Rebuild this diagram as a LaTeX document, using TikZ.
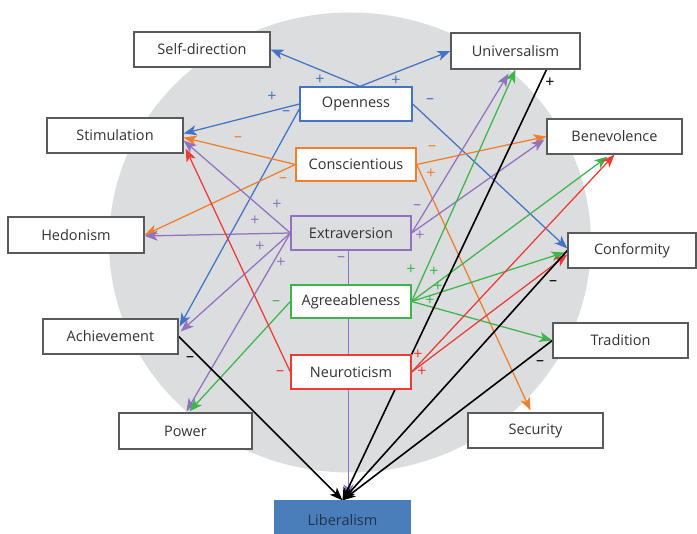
\documentclass[tikz,border=0pt]{standalone}
\usepackage{fontspec}
\setmainfont{Open Sans}
\usetikzlibrary{arrows.meta,calc}
\pgfdeclarelayer{disc}
\pgfdeclarelayer{links}
\pgfsetlayers{disc,links,main}

\definecolor{txt}{HTML}{333333}
\definecolor{frame}{HTML}{5A5A5A}
\definecolor{discgray}{HTML}{DCDDDF}
\definecolor{cOpen}{HTML}{4472C4}
\definecolor{cCons}{HTML}{F07F2B}
\definecolor{cExtr}{HTML}{9272C0}
\definecolor{cAgre}{HTML}{3DB54A}
\definecolor{cNeur}{HTML}{EE3A32}
\definecolor{libfill}{HTML}{4A7EBB}
\definecolor{libtxt}{HTML}{24314A}

\begin{document}
\begin{tikzpicture}[x=1pt,y=-1pt,
  every node/.style={font=\fontsize{14.5}{16}\selectfont, text=txt},
  valbox/.style={draw=frame, line width=1.3pt, fill=white, inner sep=0pt,
                 minimum width=135pt, minimum height=35pt},
  traitbox/.style={line width=1.3pt, inner sep=0pt, minimum width=120pt, minimum height=34pt},
  link/.style={line width=1.25pt, -{Stealth[length=13pt,width=10pt,inset=3.5pt]}},
  blink/.style={link, line width=1.6pt, black},
  sign/.style={font=\fontsize{16}{17}\selectfont, inner sep=0pt},
]
\useasboundingbox (0,0) rectangle (697,534);

% grey disc behind the trait model
\begin{pgfonlayer}{disc}
  \fill[discgray] (350,242.5) ellipse [x radius=241pt, y radius=230pt];
\end{pgfonlayer}

% value boxes
\node[valbox, minimum width=136pt] (selfdir) at (202,49.5) {Self-direction};
\node[valbox, minimum width=129pt, minimum height=36pt] (univ) at (515.5,51) {Universalism};
\node[valbox, minimum width=136pt] (stim) at (115,135.5) {Stimulation};
\node[valbox, minimum width=136pt, minimum height=36pt] (hed) at (76,235) {Hedonism};
\node[valbox] (ach) at (110.5,336.5) {Achievement};
\node[valbox, minimum width=133pt, minimum height=36pt] (pow) at (185.5,431) {Power};
\node[valbox] (bene) at (614.5,136.5) {Benevolence};
\node[valbox, minimum width=128pt] (conf) at (632,250.5) {Conformity};
\node[valbox] (trad) at (620.5,340.5) {Tradition};
\node[valbox] (sec) at (535.5,430.5) {Security};
\node[valbox, draw=libfill, fill=libfill, text=libtxt, minimum height=38pt] (lib) at (342.5,520) {Liberalism};

% trait boxes
\node[traitbox, draw=cOpen, fill=white, minimum width=112pt] (open) at (356,104) {Openness};
\node[traitbox, draw=cCons, fill=white, minimum height=33pt] (consc) at (356,164.5) {Conscientious};
\node[traitbox, draw=cExtr] (ext) at (351,233) {Extraversion};
\node[traitbox, draw=cAgre, fill=white, minimum height=33pt] (agr) at (351,301.5) {Agreeableness};
\node[traitbox, draw=cNeur, fill=white] (neu) at (351,372) {Neuroticism};

\begin{pgfonlayer}{links}
  % Openness
  \draw[link, cOpen] ($(open.north)+(4,0)$) -- (selfdir.east);
  \draw[link, cOpen] ($(open.north)+(4,0)$) -- (univ.west);
  \draw[link, cOpen] (open.west) -- ($(stim.east)+(0,-2)$);
  \draw[link, cOpen] ($(open.west)+(0,5)$) -- ($(ach.north east)+(1,8)$);
  \draw[link, cOpen] (open.east) -- ($(conf.west)+(0,-2)$);
  % Conscientiousness
  \draw[link, cCons] (consc.west) -- ($(stim.east)+(0,2)$);
  \draw[link, cCons] (consc.west) -- (hed.east);
  \draw[link, cCons] (consc.east) -- (bene.west);
  \draw[link, cCons] (consc.east) -- ($(sec.north)+(-5,-2)$);
  % Extraversion
  \draw[link, cExtr] (ext.west) -- ($(stim.east)+(0,5)$);
  \draw[link, cExtr] (ext.west) -- ($(hed.east)+(0,1)$);
  \draw[link, cExtr] (ext.west) -- ($(ach.east)+(2,-5)$);
  \draw[link, cExtr] (ext.west) -- ($(pow.north)+(1,-1)$);
  \draw[link, cExtr] (ext.east) -- ($(univ.south)+(-7,4)$);
  \draw[link, cExtr] (ext.east) -- ($(bene.west)+(-2,3)$);
  \draw[link, cExtr] ($(ext.south)+(-2.5,0)$) -- ($(lib.north)+(6,-3)$);
  % Agreeableness
  \draw[link, cAgre] (agr.west) -- ($(pow.north)+(4,-1)$);
  \draw[link, cAgre] (agr.east) -- (univ.south);
  \draw[link, cAgre] (agr.east) -- ($(bene.south)+(-7,2)$);
  \draw[link, cAgre] (agr.east) -- ($(conf.west)+(-3,2)$);
  \draw[link, cAgre] (agr.east) -- (trad.west);
  % Neuroticism
  \draw[link, cNeur] (neu.west) -- ($(stim.south east)+(2,-5)$);
  \draw[link, cNeur] (neu.east) -- (bene.south);
  \draw[link, cNeur] (neu.east) -- ($(conf.west)+(0,4)$);
  % paths into Liberalism
  \draw[blink] ($(univ.south)+(31,0)$) -- (lib.north);
  \draw[blink] (ach.east) -- (lib.north);
  \draw[blink] (conf.west) -- (lib.north);
  \draw[blink] (trad.west) -- (lib.north);
\end{pgfonlayer}

% signs of the paths
\begin{scope}[every node/.append style={sign}]
  \node[text=cOpen] (sO1) at (320,80) {+};
  \node[text=cOpen] (sO2) at (396,81) {+};
  \node[text=cOpen] (sO3) at (272,97) {+};
  \node[text=cOpen] (sO4) at (286,113) {\textendash};
  \node[text=cOpen] (sO5) at (430,101) {\textendash};
  \node[text=cCons] (sC1) at (238,139) {\textendash};
  \node[text=cCons] (sC2) at (283,180) {\textendash};
  \node[text=cCons] (sC3) at (432,148) {\textendash};
  \node[text=cCons] (sC4) at (431,174) {+};
  \node[text=cExtr] (sE1) at (277,205) {+};
  \node[text=cExtr] (sE2) at (255,221) {+};
  \node[text=cExtr] (sE3) at (260,247) {+};
  \node[text=cExtr] (sE4) at (281,263) {+};
  \node[text=cExtr] (sE5) at (417,207) {\textendash};
  \node[text=cExtr] (sE6) at (420,236) {+};
  \node[text=cExtr] (sE7) at (341,259) {\textendash};
  \node[text=cAgre] (sA1) at (276,303) {\textendash};
  \node[text=cAgre] (sA2) at (411,270) {+};
  \node[text=cAgre] (sA3) at (434,272) {+};
  \node[text=cAgre] (sA4) at (438,287) {+};
  \node[text=cAgre] (sA5) at (430,301) {+};
  \node[text=cNeur] (sN1) at (280,373) {\textendash};
  \node[text=cNeur] (sN2) at (418,355) {+};
  \node[text=cNeur] (sN3) at (422,372) {+};
  \node[text=black] (sL1) at (550,83) {+};
  \node[text=black] (sL2) at (190,359) {\textendash};
  \node[text=black] (sL3) at (553,283) {\textendash};
  \node[text=black] (sL4) at (540,363) {\textendash};
\end{scope}
\end{tikzpicture}
\end{document}
